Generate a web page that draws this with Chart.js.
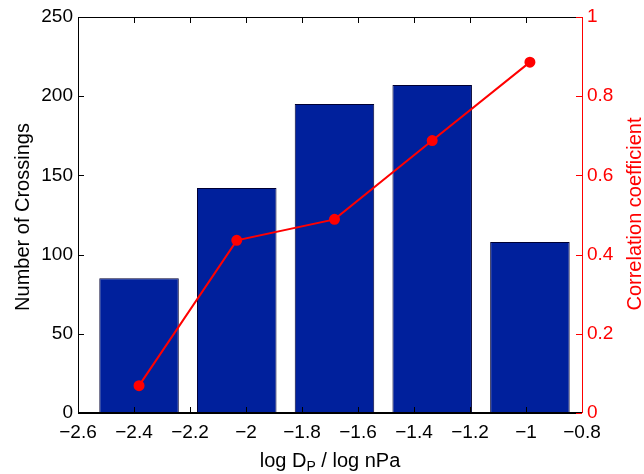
<!DOCTYPE html>
<html>
<head>
<meta charset="utf-8">
<script src="https://cdn.jsdelivr.net/npm/chart.js@4.4.1/dist/chart.umd.min.js"></script>
<style>
  html, body { margin: 0; padding: 0; background: #fff; }
  #wrap { width: 644px; height: 474px; }
</style>
</head>
<body>
<div id="wrap"><canvas id="chart"></canvas></div>
<script>
// Bin centres (log D_P) and values
const binCenters = [-2.382, -2.033, -1.684, -1.335, -0.986];
const crossings = [85, 142, 195, 207, 108];
const correlation = [0.069, 0.436, 0.489, 0.688, 0.886];

const xMin = -2.6, xMax = -0.8, xStep = 0.2;
const countMax = 250, countStep = 50;
const corrMax = 1, corrStep = 0.2;

const FONT = '"Liberation Sans", Arial, Helvetica, sans-serif';
const TICK_SIZE = 19;
const TITLE_SIZE = 20;
const BAR_BLUE = '#00209C';
const RED = '#FF0000';

// bar width is 0.284 x-units; Chart.js measures bars against the 0.2 tick spacing
const barFraction = 0.284 / xStep;

function fmt(v) {
  const r = Math.round(v * 10) / 10;
  return r < 0 ? '\u2212' + Math.abs(r) : String(r);
}

// MATLAB-like frame: inward ticks, top border, red right axis, axis titles
const frame = {
  id: 'frame',
  afterDatasetsDraw(chart) {
    const { ctx, chartArea: a, scales } = chart;
    const len = 6;
    ctx.save();
    ctx.lineWidth = 1;
    ctx.strokeStyle = '#000';
    ctx.beginPath();
    ctx.moveTo(a.left + 0.5, a.top + 0.5);
    ctx.lineTo(a.right, a.top + 0.5);
    ctx.moveTo(a.left + 0.5, a.top);
    ctx.lineTo(a.left + 0.5, a.bottom);
    scales.x.ticks.forEach(t => {
      const px = Math.round(scales.x.getPixelForValue(t.value)) + 0.5;
      ctx.moveTo(px, a.bottom);
      ctx.lineTo(px, a.bottom - len);
      ctx.moveTo(px, a.top);
      ctx.lineTo(px, a.top + len);
    });
    scales.y.ticks.forEach(t => {
      const py = Math.round(scales.y.getPixelForValue(t.value)) + 0.5;
      ctx.moveTo(a.left, py);
      ctx.lineTo(a.left + len, py);
    });
    ctx.stroke();
    ctx.lineWidth = 2;
    ctx.beginPath();
    ctx.moveTo(a.left, a.bottom);
    ctx.lineTo(a.right, a.bottom);
    ctx.stroke();
    ctx.strokeStyle = RED;
    ctx.lineWidth = 1;
    ctx.beginPath();
    ctx.moveTo(a.right + 0.5, a.top);
    ctx.lineTo(a.right + 0.5, a.bottom);
    scales.y1.ticks.forEach(t => {
      const py = Math.round(scales.y1.getPixelForValue(t.value)) + 0.5;
      ctx.moveTo(a.right, py);
      ctx.lineTo(a.right - len, py);
    });
    ctx.stroke();

    ctx.textBaseline = 'middle';
    ctx.textAlign = 'center';
    ctx.font = TITLE_SIZE + 'px ' + FONT;

    // left title
    ctx.save();
    ctx.translate(23, 217);
    ctx.rotate(-Math.PI / 2);
    ctx.fillStyle = '#000';
    ctx.fillText('Number of Crossings', 0, 0);
    ctx.restore();

    // right title
    ctx.save();
    ctx.translate(635, 214);
    ctx.rotate(-Math.PI / 2);
    ctx.fillStyle = RED;
    ctx.fillText('Correlation coefficient', 0, 0);
    ctx.restore();

    // x axis title with subscript
    const cx = (a.left + a.right) / 2;
    const y = 461;
    ctx.fillStyle = '#000';
    ctx.textAlign = 'left';
    const p1 = 'log D', p3 = ' / log nPa';
    const small = Math.round(TITLE_SIZE * 0.72) + 'px ' + FONT;
    const big = TITLE_SIZE + 'px ' + FONT;
    ctx.font = small;
    const w2 = ctx.measureText('P').width;
    ctx.font = big;
    const w1 = ctx.measureText(p1).width, w3 = ctx.measureText(p3).width;
    let x = cx - (w1 + w2 + w3) / 2;
    ctx.fillText(p1, x, y);
    x += w1;
    ctx.font = small;
    ctx.fillText('P', x, y + 6);
    x += w2;
    ctx.font = big;
    ctx.fillText(p3, x, y);
    ctx.restore();
  }
};

new Chart(document.getElementById('chart'), {
  data: {
    datasets: [
      {
        type: 'line',
        label: 'Correlation coefficient',
        data: binCenters.map((x, i) => ({ x, y: correlation[i] })),
        yAxisID: 'y1',
        borderColor: RED,
        backgroundColor: RED,
        borderWidth: 2,
        pointRadius: 4.5,
        pointHoverRadius: 4.5,
        tension: 0,
        order: 0
      },
      {
        type: 'bar',
        label: 'Number of Crossings',
        data: binCenters.map((x, i) => ({ x, y: crossings[i] })),
        yAxisID: 'y',
        backgroundColor: BAR_BLUE,
        borderColor: '#000033',
        borderWidth: 1,
        categoryPercentage: 1,
        barPercentage: barFraction,
        order: 1
      }
    ]
  },
  options: {
    responsive: true,
    maintainAspectRatio: false,
    animation: false,
    layout: { padding: { top: 17, left: 0, right: 0, bottom: 0 } },
    plugins: {
      legend: { display: false },
      tooltip: { enabled: false }
    },
    scales: {
      x: {
        type: 'linear',
        min: xMin,
        max: xMax,
        offset: false,
        afterFit: s => { s.height = 61; },
        grid: { display: false, drawTicks: false },
        border: { display: false },
        ticks: {
          stepSize: xStep,
          color: '#000',
          font: { family: FONT, size: TICK_SIZE },
          padding: 8,
          maxRotation: 0,
          callback: v => fmt(v)
        }
      },
      y: {
        type: 'linear',
        position: 'left',
        min: 0,
        max: countMax,
        afterFit: s => { s.width = 78; },
        grid: { display: false, drawTicks: false },
        border: { display: false },
        ticks: {
          stepSize: countStep,
          color: '#000',
          font: { family: FONT, size: TICK_SIZE },
          padding: 5
        }
      },
      y1: {
        type: 'linear',
        position: 'right',
        min: 0,
        max: corrMax,
        afterFit: s => { s.width = 62; },
        grid: { display: false, drawTicks: false },
        border: { display: false },
        ticks: {
          stepSize: corrStep,
          color: RED,
          font: { family: FONT, size: TICK_SIZE },
          padding: 5,
          callback: v => fmt(v)
        }
      }
    }
  },
  plugins: [frame]
});
</script>
</body>
</html>
